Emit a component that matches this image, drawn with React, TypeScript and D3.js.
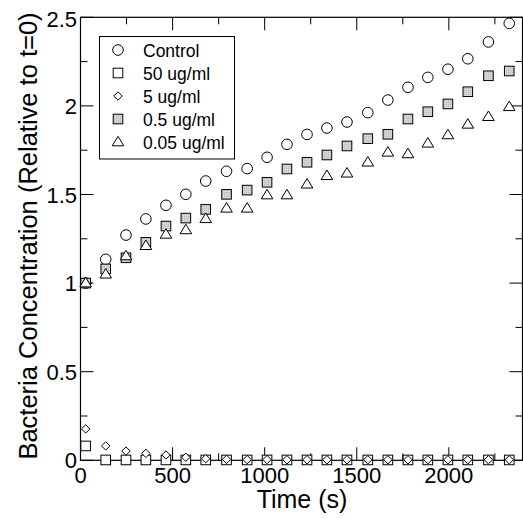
import React from "react";
import * as d3 from "d3";

const times = [28, 137, 247, 355, 464, 572, 680, 793, 905, 1013, 1121, 1230, 1338, 1447, 1560, 1669, 1778, 1886, 1995, 2103, 2215, 2328];
const control = [1.0, 1.134, 1.271, 1.362, 1.439, 1.501, 1.576, 1.631, 1.646, 1.71, 1.783, 1.839, 1.875, 1.909, 1.962, 2.033, 2.105, 2.161, 2.207, 2.266, 2.361, 2.466];
const ug50 = [0.081, 0.002, 0.002, 0.002, 0.002, 0.002, 0.002, 0.002, 0.002, 0.002, 0.002, 0.002, 0.002, 0.002, 0.002, 0.002, 0.002, 0.002, 0.002, 0.002, 0.002, 0.002];
const ug5 = [0.177, 0.081, 0.052, 0.039, 0.03, 0.017, 0.009, 0.005, 0.004, 0.004, 0.003, 0.003, 0.003, 0.003, 0.003, 0.003, 0.003, 0.003, 0.003, 0.003, 0.003, 0.003];
const ug05 = [1.0, 1.08, 1.143, 1.23, 1.322, 1.367, 1.416, 1.501, 1.525, 1.569, 1.644, 1.682, 1.723, 1.774, 1.815, 1.84, 1.926, 1.967, 2.011, 2.08, 2.17, 2.197];
const ug005 = [1.0, 1.05, 1.153, 1.211, 1.275, 1.3, 1.363, 1.422, 1.422, 1.497, 1.497, 1.558, 1.606, 1.62, 1.682, 1.738, 1.729, 1.789, 1.836, 1.896, 1.939, 1.995];

const seriesNames = ["Control", "50 ug/ml", "5 ug/ml", "0.5 ug/ml", "0.05 ug/ml"];
const seriesSymbols = ["circle", "square", "diamond", "graysquare", "triangle"];
const seriesValues = [control, ug50, ug5, ug05, ug005];

const xMajor = [0, 500, 1000, 1500, 2000];
const yMajor = [0, 0.5, 1, 1.5, 2, 2.5];
const yLabels = ["0", "0.5", "1", "1.5", "2", "2.5"];

const FONT = "Liberation Sans, Arial, sans-serif";

function Marker({ kind, x, y }: { kind: string; x: number; y: number }) {
  const common = { stroke: "#000", strokeWidth: 1 };
  if (kind === "circle") return <circle cx={x} cy={y} r={5.3} fill="#fff" {...common} />;
  if (kind === "square") return <rect x={x - 4.8} y={y - 4.8} width={9.6} height={9.6} fill="#fff" {...common} />;
  if (kind === "graysquare") return <rect x={x - 4.8} y={y - 4.8} width={9.6} height={9.6} fill="url(#grayPat)" {...common} />;
  if (kind === "diamond") {
    const s = 4.2;
    return <path d={`M${x},${y - s}L${x + s},${y}L${x},${y + s}L${x - s},${y}Z`} fill="#fff" {...common} />;
  }
  const w = 5.8, h = 9.5;
  return <path d={`M${x},${y - h * 0.6}L${x + w},${y + h * 0.4}L${x - w},${y + h * 0.4}Z`} fill="#fff" {...common} />;
}

export default function App() {
  const W = 523, H = 519;
  const x = d3.scaleLinear().domain([0, 2400]).range([80.5, 522.5]);
  const y = d3.scaleLinear().domain([0, 2.5]).range([460.3, 17.3]);
  const x0 = x(0), x1 = x(2400), y0 = y(0), y1 = y(2.5);
  const xMinor = d3.range(250, 2400, 500);
  const yMinor = d3.range(0.25, 2.5, 0.5);
  const MAJ = 13, MIN = 7;

  return (
    <svg width={W} height={H} style={{ position: "absolute", left: 0, top: 0, background: "#fff", fontFamily: FONT }}>
      <defs>
        <pattern id="grayPat" width={2} height={2} patternUnits="userSpaceOnUse">
          <rect width={2} height={2} fill="#d6d6d6" />
          <rect width={1} height={1} fill="#b8b8b8" />
        </pattern>
      </defs>
      <rect x={0} y={0} width={W} height={H} fill="#fff" />
      <rect x={x0} y={y1} width={x1 - x0} height={y0 - y1} fill="none" stroke="#000" strokeWidth={1.2} />
      {xMajor.map((t) => (
        <g key={"xm" + t}>
          <line x1={x(t)} x2={x(t)} y1={y0} y2={y0 - MAJ} stroke="#000" />
          <line x1={x(t)} x2={x(t)} y1={y1} y2={y1 + MAJ} stroke="#000" />
          <text x={x(t)} y={483} fontSize={22} textAnchor="middle">{t}</text>
        </g>
      ))}
      {xMinor.map((t) => (
        <g key={"xn" + t}>
          <line x1={x(t)} x2={x(t)} y1={y0} y2={y0 - MIN} stroke="#000" />
          <line x1={x(t)} x2={x(t)} y1={y1} y2={y1 + MIN} stroke="#000" />
        </g>
      ))}
      {yMajor.map((v, i) => (
        <g key={"ym" + v}>
          <line x1={x0} x2={x0 + MAJ} y1={y(v)} y2={y(v)} stroke="#000" />
          <line x1={x1} x2={x1 - MAJ} y1={y(v)} y2={y(v)} stroke="#000" />
          <text x={77} y={y(v) + (v === 2.5 ? 10 : 8)} fontSize={22} textAnchor="end">{yLabels[i]}</text>
        </g>
      ))}
      {yMinor.map((v) => (
        <g key={"yn" + v}>
          <line x1={x0} x2={x0 + MIN} y1={y(v)} y2={y(v)} stroke="#000" />
          <line x1={x1} x2={x1 - MIN} y1={y(v)} y2={y(v)} stroke="#000" />
        </g>
      ))}
      <text x={302} y={508} fontSize={25} textAnchor="middle">Time (s)</text>
      <text transform={`translate(37,236) rotate(-90)`} fontSize={25.5} textAnchor="middle">Bacteria Concentration (Relative to t=0)</text>
      {seriesValues.map((vals, si) => (
        <g key={"s" + si}>
          {vals.map((v, i) => (
            <Marker key={i} kind={seriesSymbols[si]} x={x(times[i])} y={y(v)} />
          ))}
        </g>
      ))}
      <rect x={99.5} y={36.5} width={135} height={122.5} fill="#fff" stroke="#000" strokeWidth={1} />
      {seriesNames.map((n, i) => (
        <g key={"l" + i}>
          <Marker kind={seriesSymbols[i]} x={118} y={50 + 23 * i} />
          <text x={143} y={56.5 + 23 * i} fontSize={17.5}>{n}</text>
        </g>
      ))}
    </svg>
  );
}
